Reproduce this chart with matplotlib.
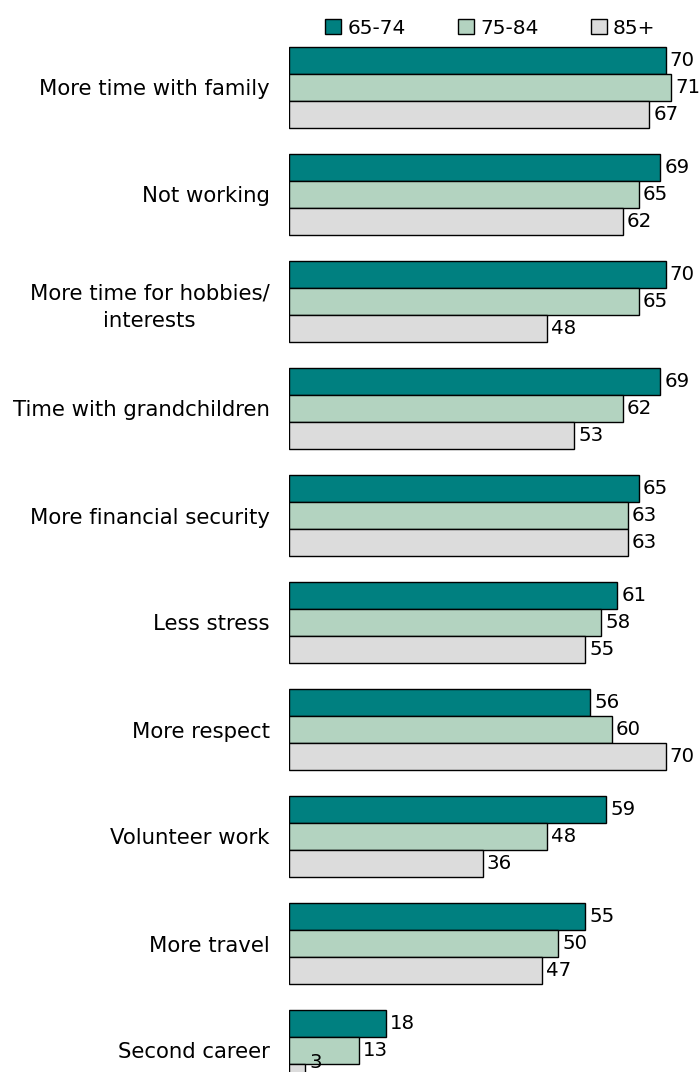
import matplotlib

matplotlib.use("Agg")
import matplotlib.pyplot as plt
import numpy as np

categories = [
    "More time with family", "Not working", "More time for hobbies/\ninterests",
    "Time with grandchildren", "More financial security", "Less stress",
    "More respect", "Volunteer work", "More travel", "Second career",
]
series = ["65-74", "75-84", "85+"]
age_65_74 = [70, 69, 70, 69, 65, 61, 56, 59, 55, 18]
age_75_84 = [71, 65, 65, 62, 63, 58, 60, 48, 50, 13]
age_85_up = [67, 62, 48, 53, 63, 55, 70, 36, 47, 3]

COLORS = ["#008080", "#b3d3c0", "#dcdcdc"]

W, H = 699, 1072
fig = plt.figure(figsize=(W / 100, H / 100), dpi=100)
ax = fig.add_axes([289 / W, 0, 1 - 289 / W, 1])

pitch = 107.0
bh = 27 / pitch
y = np.arange(len(categories))
labels = []
for k, (vals, col, name) in enumerate(zip([age_65_74, age_75_84, age_85_up], COLORS, series)):
    bars = ax.barh(y + (k - 1) * bh, vals, height=bh, color=col, edgecolor="black",
                   linewidth=1.0, label=name)
    labels.append(ax.bar_label(bars, padding=3, fontsize=14.2, annotation_clip=False))

# last bar runs off the bottom edge: keep its label inside the picture
labels[2][-1].set_va("bottom")
labels[2][-1].xyann = (3, 4)

ax.set_ylim(9 + (H - 1050.5) / pitch, -87.5 / pitch)
ax.set_xlim(0, 410 / 5.38)
ax.set_yticks(y, categories, fontsize=15.3, ha="right")
ax.tick_params(axis="y", length=0, pad=14)
for lbl in ax.get_yticklabels():
    lbl.set_multialignment("center")
    lbl.set_linespacing(1.5)
ax.set_xticks([])
for s in ax.spines.values():
    s.set_visible(False)

fig.legend(loc="center left", bbox_to_anchor=(325 / W, 1 - 28 / H), ncol=3,
           frameon=False, fontsize=14.5, handlelength=0.8, handleheight=0.8,
           handletextpad=0.3, columnspacing=2.6, borderaxespad=0, borderpad=0)

fig.savefig("out.png", dpi=100)
